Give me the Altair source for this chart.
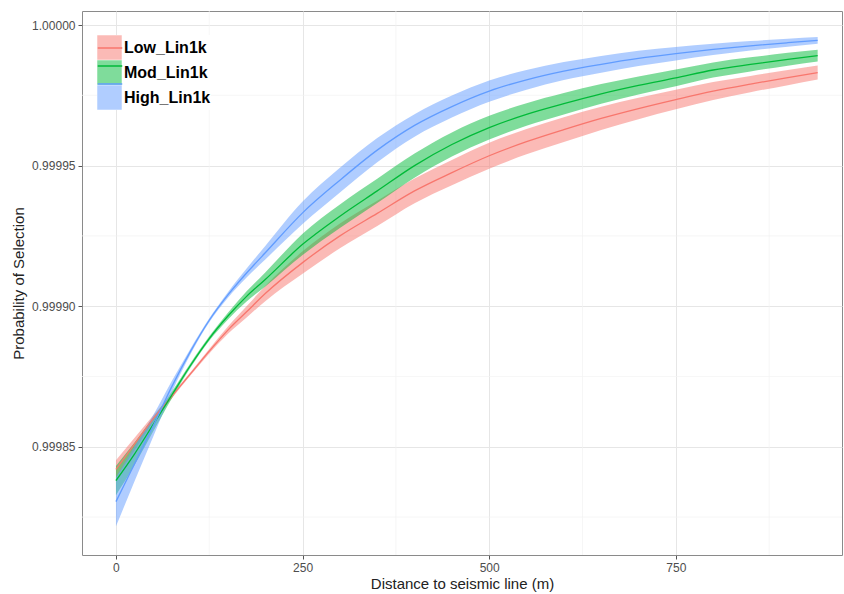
import altair as alt
import pandas as pd

# Distance to seismic line (m)
distance = [0, 25, 50, 75, 100, 125, 150, 175, 200, 250, 300, 350, 400, 450,
            500, 550, 600, 650, 700, 750, 800, 850, 900, 940]

series_names = ["Low_Lin1k", "Mod_Lin1k", "High_Lin1k"]
series_colors = ["#F8766D", "#00BA38", "#619CFF"]

# fitted probability of selection
low_fit = [0.999842, 0.999851, 0.999860, 0.999868, 0.999876, 0.999884, 0.9998915,
           0.999898, 0.9999045, 0.9999155, 0.999925, 0.999933, 0.999941, 0.9999475,
           0.9999535, 0.9999585, 0.9999628, 0.9999668, 0.9999703, 0.9999735,
           0.9999765, 0.999979, 0.9999813, 0.9999831]
mod_fit = [0.999838, 0.9998475, 0.999858, 0.9998685, 0.999879, 0.9998885, 0.9998965,
           0.9999035, 0.9999095, 0.999922, 0.999932, 0.999941, 0.999950, 0.9999575,
           0.9999635, 0.9999682, 0.999972, 0.9999755, 0.9999785, 0.9999812,
           0.999984, 0.999986, 0.9999878, 0.9999891]
high_fit = [0.9998305, 0.999844, 0.9998575, 0.9998715, 0.999884, 0.999895, 0.999904,
            0.9999118, 0.999919, 0.9999332, 0.9999448, 0.9999555, 0.9999643, 0.999971,
            0.9999765, 0.9999805, 0.9999836, 0.999986, 0.9999881, 0.9999898,
            0.9999913, 0.9999926, 0.9999937, 0.9999945]

# half-width of the confidence band, in units of 1e-5
HALF_UNIT = 1e-5
low_half = [0.32, 0.22, 0.12, 0.07, 0.06, 0.08, 0.13, 0.20, 0.27, 0.40, 0.44, 0.45,
            0.44, 0.45, 0.46, 0.45, 0.44, 0.41, 0.38, 0.35, 0.32, 0.29, 0.27, 0.25]
mod_half = [0.52, 0.40, 0.25, 0.12, 0.08, 0.08, 0.12, 0.18, 0.25, 0.38, 0.42, 0.43,
            0.43, 0.43, 0.42, 0.40, 0.38, 0.35, 0.32, 0.30, 0.27, 0.25, 0.23, 0.21]
high_half = [0.88, 0.62, 0.38, 0.20, 0.10, 0.07, 0.10, 0.16, 0.24, 0.40, 0.44, 0.43,
             0.40, 0.39, 0.38, 0.35, 0.32, 0.30, 0.27, 0.24, 0.20, 0.17, 0.14, 0.12]

x_major = [0, 250, 500, 750]
x_minor = [125, 375, 625, 875]
y_major = [0.99985, 0.99990, 0.99995, 1.00000]
y_minor = [0.999825, 0.999875, 0.999925, 0.999975]

rows = []
for name, fit, half in zip(series_names, [low_fit, mod_fit, high_fit],
                           [low_half, mod_half, high_half]):
    for d, f, h in zip(distance, fit, half):
        rows.append({"distance": d, "series": name, "series_line": name, "fit": f,
                     "lo": f - h * HALF_UNIT, "hi": f + h * HALF_UNIT})
df = pd.DataFrame(rows)

FONT = "Liberation Sans"

x_scale = alt.Scale(domain=[-45.5, 972.6], nice=False, zero=False)
y_scale = alt.Scale(domain=[0.99981152, 1.00000498], nice=False, zero=False)
x_axis = alt.Axis(values=x_major, title="Distance to seismic line (m)", format="d",
                  labelFontSize=12, titleFontSize=15, labelPadding=3,
                  titlePadding=3, titleFontWeight="normal")
y_axis = alt.Axis(values=y_major, title="Probability of Selection", format=".5f",
                  labelFontSize=12, titleFontSize=15, labelPadding=3,
                  titlePadding=5, titleFontWeight="normal")
color_scale = alt.Scale(domain=series_names, range=series_colors)

minor_x = alt.Chart(pd.DataFrame({"mx": x_minor})).mark_rule(
    color="#f2f2f2", strokeWidth=0.7
).encode(x=alt.X("mx:Q", scale=x_scale, axis=x_axis))

minor_y = alt.Chart(pd.DataFrame({"my": y_minor})).mark_rule(
    color="#f2f2f2", strokeWidth=0.7
).encode(y=alt.Y("my:Q", scale=y_scale, axis=y_axis))

band = alt.Chart(df).mark_area(opacity=0.5, interpolate="monotone").encode(
    x=alt.X("distance:Q", scale=x_scale, axis=x_axis),
    y=alt.Y("lo:Q", scale=y_scale, axis=y_axis),
    y2="hi:Q",
    fill=alt.Fill("series:N", scale=color_scale, sort=series_names,
                  legend=alt.Legend(orient="none", legendX=15, legendY=24, title=None,
                                    symbolType="square", symbolSize=600,
                                    symbolOpacity=0.5, symbolStrokeWidth=0,
                                    labelFontSize=16, labelFontWeight="bold",
                                    labelColor="black", labelFont=FONT,
                                    rowPadding=0, labelOffset=2, padding=0,
                                    fillColor="white", zindex=1)),
    detail="series:N",
)

line = alt.Chart(df).mark_line(strokeWidth=1.3, interpolate="monotone").encode(
    x=alt.X("distance:Q", scale=x_scale, axis=x_axis),
    y=alt.Y("fit:Q", scale=y_scale, axis=y_axis),
    stroke=alt.Stroke("series_line:N", scale=color_scale, sort=series_names,
                      legend=alt.Legend(orient="none", legendX=15, legendY=24, title=None,
                                        symbolType="stroke", symbolSize=600,
                                        symbolStrokeWidth=1.5,
                                        labelExpr="''",
                                        rowPadding=0, labelOffset=2, padding=0,
                                        zindex=2)),
    detail="series_line:N",
)

chart = alt.layer(minor_x, minor_y, band, line).resolve_scale(
    fill="independent", stroke="independent"
).properties(
    width=760, height=544,
    autosize=alt.AutoSizeParams(type="none"),
    padding={"left": 82, "top": 11, "right": 2, "bottom": 39},
    background="white",
).configure_view(
    stroke="#8a8a8a", strokeWidth=1
).configure_axis(
    domain=False, grid=True, gridColor="#e6e6e6", gridWidth=1,
    tickColor="#555555", tickSize=4, labelColor="#4d4d4d", titleColor="#222222",
    labelFont=FONT, titleFont=FONT,
)

chart.save("out.html", embed_options={"renderer": "svg", "actions": False})
